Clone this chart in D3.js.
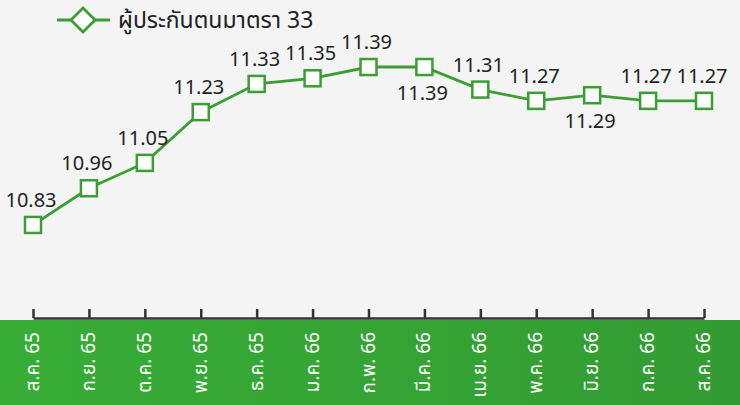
<!DOCTYPE html>
<html>
<head>
    <meta charset="utf-8">
    <title>ผู้ประกันตนมาตรา 33</title>
    <style>
        html, body { margin: 0; padding: 0; background: #f4f4f4; }
        svg { display: block; font-family: "Noto Sans Thai", "Noto Sans", "Open Sans", sans-serif; }
    </style>
</head>
<body>
    <div id="chart"></div>

    <script src="https://cdnjs.cloudflare.com/ajax/libs/d3/7.8.5/d3.min.js"></script>
    <script>
        // Data
        const months = ["ส.ค. 65", "ก.ย. 65", "ต.ค. 65", "พ.ย. 65", "ธ.ค. 65", "ม.ค. 66", "ก.พ. 66",
                        "มี.ค. 66", "เม.ย. 66", "พ.ค. 66", "มิ.ย. 66", "ก.ค. 66", "ส.ค. 66"];
        const insured = [10.83, 10.96, 11.05, 11.23, 11.33, 11.35, 11.39, 11.39, 11.31, 11.27, 11.29, 11.27, 11.27];
        const labelSide = ["up", "up", "up", "up", "up", "up", "up", "down", "up", "up", "down", "up", "up"];
        const seriesName = "ผู้ประกันตนมาตรา 33";

        const width = 740, height = 405;
        const green = "#3a9e32";

        const svg = d3.select("#chart").append("svg")
            .attr("width", width)
            .attr("height", height);

        // Background + green axis band
        const defs = svg.append("defs");
        const grad = defs.append("linearGradient").attr("id", "band").attr("x1", "0").attr("x2", "1");
        grad.append("stop").attr("offset", "0").attr("stop-color", "#37ad36");
        grad.append("stop").attr("offset", "1").attr("stop-color", "#339b33");

        svg.append("rect").attr("width", width).attr("height", height).attr("fill", "#f4f4f4");
        svg.append("rect").attr("y", 320).attr("width", width).attr("height", height - 320).attr("fill", "url(#band)");

        // Scales
        const x = d3.scalePoint().domain(months).range([33, 704]);
        const y = d3.scaleLinear().domain([10.5, 11.5]).range([318, 36]);

        // Axis (ticks point upward)
        const axis = svg.append("g")
            .attr("transform", "translate(0,318)")
            .call(d3.axisTop(x).tickSize(9).tickSizeOuter(0).tickFormat(""));
        axis.select(".domain").attr("stroke", "#333").attr("stroke-width", 2.5);
        axis.selectAll(".tick line").attr("stroke", "#333").attr("stroke-width", 2.5);

        // Month labels, rotated, in the band
        svg.append("g").selectAll("text")
            .data(months)
            .join("text")
            .attr("transform", d => `translate(${x(d) + 6},332) rotate(-90)`)
            .attr("text-anchor", "end")
            .attr("fill", "#fff")
            .attr("font-size", 19)
            .text(d => d);

        // Line
        const line = d3.line()
            .x((d, i) => x(months[i]))
            .y(d => y(d));

        svg.append("path")
            .datum(insured)
            .attr("fill", "none")
            .attr("stroke", green)
            .attr("stroke-width", 2.8)
            .attr("d", line);

        // Markers
        svg.append("g").selectAll("rect")
            .data(insured)
            .join("rect")
            .attr("x", (d, i) => x(months[i]) - 8)
            .attr("y", d => y(d) - 8)
            .attr("width", 16)
            .attr("height", 16)
            .attr("fill", "#fff")
            .attr("stroke", green)
            .attr("stroke-width", 2.5);

        // Value labels
        svg.append("g").selectAll("text")
            .data(insured)
            .join("text")
            .attr("x", (d, i) => x(months[i]) - 2)
            .attr("y", (d, i) => y(d) + (labelSide[i] === "up" ? -18 : 33))
            .attr("text-anchor", "middle")
            .attr("font-size", 20)
            .attr("fill", "#222")
            .text(d => d.toFixed(2));

        // Legend
        const legend = svg.append("g").attr("transform", "translate(57,20)");
        legend.append("line")
            .attr("x1", 0).attr("x2", 53)
            .attr("stroke", green).attr("stroke-width", 2.8);
        legend.append("path")
            .attr("d", "M26,-12L38,0L26,12L14,0Z")
            .attr("fill", "#fff")
            .attr("stroke", green)
            .attr("stroke-width", 2.8);
        legend.append("text")
            .attr("x", 61).attr("y", 8)
            .attr("font-size", 23)
            .attr("fill", "#222")
            .text(seriesName);
    </script>
</body>
</html>
